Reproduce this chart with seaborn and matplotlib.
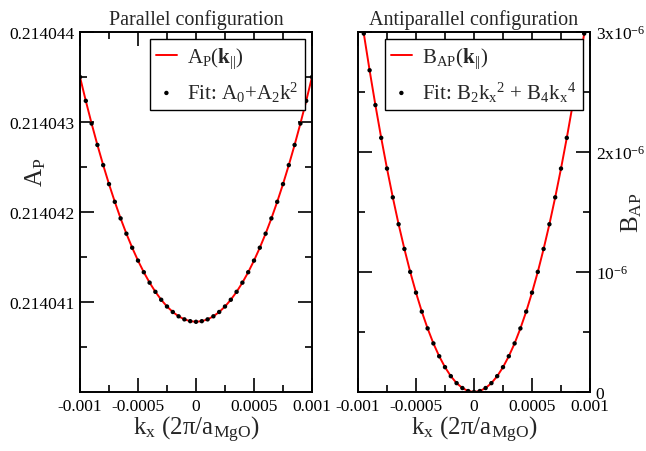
import numpy as np
import pandas as pd
import seaborn as sns
import matplotlib
matplotlib.use("Agg")
import matplotlib.pyplot as plt
from matplotlib.ticker import MultipleLocator, FixedLocator

# k_x values (2pi/a_MgO)
k_x = [-0.00100, -0.00095, -0.00090, -0.00085, -0.00080, -0.00075, -0.00070,
       -0.00065, -0.00060, -0.00055, -0.00050, -0.00045, -0.00040, -0.00035,
       -0.00030, -0.00025, -0.00020, -0.00015, -0.00010, -0.00005, 0.00000,
       0.00005, 0.00010, 0.00015, 0.00020, 0.00025, 0.00030, 0.00035,
       0.00040, 0.00045, 0.00050, 0.00055, 0.00060, 0.00065, 0.00070,
       0.00075, 0.00080, 0.00085, 0.00090, 0.00095, 0.00100]

# parallel configuration A_P
a_p = [0.214043500, 0.214043235, 0.214042983, 0.214042745, 0.214042521,
       0.214042310, 0.214042113, 0.214041929, 0.214041759, 0.214041603,
       0.214041460, 0.214041331, 0.214041215, 0.214041113, 0.214041025,
       0.214040950, 0.214040889, 0.214040841, 0.214040807, 0.214040787,
       0.214040780,
       0.214040787, 0.214040807, 0.214040841, 0.214040889, 0.214040950,
       0.214041025, 0.214041113, 0.214041215, 0.214041331, 0.214041460,
       0.214041603, 0.214041759, 0.214041929, 0.214042113, 0.214042310,
       0.214042521, 0.214042745, 0.214042983, 0.214043235, 0.214043500]

# antiparallel configuration B_AP
b_ap = [3.310e-6, 2.987e-6, 2.681e-6, 2.391e-6, 2.118e-6, 1.862e-6, 1.622e-6,
        1.398e-6, 1.192e-6, 1.001e-6, 0.828e-6, 0.670e-6, 0.530e-6, 0.405e-6,
        0.298e-6, 0.207e-6, 0.132e-6, 0.074e-6, 0.033e-6, 0.008e-6, 0.0,
        0.008e-6, 0.033e-6, 0.074e-6, 0.132e-6, 0.207e-6, 0.298e-6, 0.405e-6,
        0.530e-6, 0.670e-6, 0.828e-6, 1.001e-6, 1.192e-6, 1.398e-6, 1.622e-6,
        1.862e-6, 2.118e-6, 2.391e-6, 2.681e-6, 2.987e-6, 3.310e-6]

x_ticks = [-0.001, -0.0005, 0, 0.0005, 0.001]
x_labels = ["-0.001", "-0.0005", "0", "0.0005", "0.001"]
a_ticks = [0.214041, 0.214042, 0.214043, 0.214044]
a_labels = ["0.214041", "0.214042", "0.214043", "0.214044"]
b_ticks = [0, 1e-6, 2e-6, 3e-6]
b_labels = ["0", "10$^{\\mathregular{-6}}$", "2x10$^{\\mathregular{-6}}$",
            "3x10$^{\\mathregular{-6}}$"]

df = pd.DataFrame({"k": k_x, "A": a_p, "B": b_ap})

sns.set_theme(style="ticks")
plt.rcParams["font.family"] = ["Liberation Serif", "DejaVu Serif"]
plt.rcParams["mathtext.fontset"] = "custom"
plt.rcParams["mathtext.rm"] = "Liberation Serif"
plt.rcParams["mathtext.it"] = "Liberation Serif:italic"
plt.rcParams["mathtext.bf"] = "Liberation Serif:bold"

fig = plt.figure(figsize=(6.46, 4.52), dpi=100)
ax1 = fig.add_axes([80 / 646, 59 / 452, 232 / 646, 360 / 452])
ax2 = fig.add_axes([358 / 646, 59 / 452, 232 / 646, 360 / 452])


def style_axis(ax):
    for s in ax.spines.values():
        s.set_linewidth(1.4)
        s.set_color("black")
    ax.tick_params(which="both", direction="in", top=True, right=True,
                   left=True, bottom=True, width=1.2, colors="black",
                   labelsize=12.5, pad=4)
    ax.tick_params(which="major", length=10)
    ax.tick_params(which="minor", length=5)
    ax.set_xlim(-0.001, 0.001)
    ax.xaxis.set_major_locator(FixedLocator(x_ticks))
    ax.set_xticklabels(x_labels)
    ax.xaxis.set_minor_locator(MultipleLocator(0.00025))
    ax.set_xlabel("k$_\\mathregular{x}$ (2π/a$_\\mathregular{MgO}$)",
                  fontsize=18, labelpad=0)


def style_legend(ax):
    leg = ax.legend(loc="upper right", fontsize=15, frameon=True,
                    fancybox=False, edgecolor="black", framealpha=1,
                    borderaxespad=0.35, borderpad=0.3, handlelength=1.0,
                    handletextpad=0.5, labelspacing=0.45)
    leg.get_frame().set_linewidth(1.0)


# left panel
sns.lineplot(data=df, x="k", y="A", ax=ax1, color="#ff0000", linewidth=1.4,
             label="A$_\\mathregular{P}$($\\mathbf{k}_{\\mathregular{||}}$)")
sns.scatterplot(data=df, x="k", y="A", ax=ax1, color="black", s=10,
                edgecolor="none", zorder=3,
                label="Fit: A$_\\mathregular{0}$+A$_\\mathregular{2}$k$^\\mathregular{2}$")
style_axis(ax1)
ax1.set_ylim(0.21404, 0.214044)
ax1.yaxis.set_major_locator(FixedLocator(a_ticks))
ax1.set_yticklabels(a_labels)
ax1.yaxis.set_minor_locator(FixedLocator([0.2140405, 0.2140415, 0.2140425, 0.2140435]))
ax1.set_ylabel("A$_\\mathregular{P}$", fontsize=18, va="center")
ax1.yaxis.set_label_coords(-0.19, 0.614)
ax1.set_title("Parallel configuration", fontsize=14.5, pad=6)
style_legend(ax1)

# right panel
sns.lineplot(data=df, x="k", y="B", ax=ax2, color="#ff0000", linewidth=1.4,
             label="B$_\\mathregular{AP}$($\\mathbf{k}_{\\mathregular{||}}$)")
sns.scatterplot(data=df, x="k", y="B", ax=ax2, color="black", s=10,
                edgecolor="none", zorder=3,
                label="Fit: B$_\\mathregular{2}$k$_\\mathregular{x}{}^\\mathregular{2}$ + B$_\\mathregular{4}$k$_\\mathregular{x}{}^\\mathregular{4}$")
style_axis(ax2)
ax2.set_ylim(0, 3e-6)
ax2.yaxis.set_major_locator(FixedLocator(b_ticks))
ax2.set_yticklabels(b_labels)
ax2.yaxis.set_minor_locator(MultipleLocator(0.5e-6))
ax2.yaxis.tick_right()
ax2.tick_params(which="both", left=True, right=True, labelleft=False,
                labelright=True)
ax2.yaxis.set_label_position("right")
ax2.set_ylabel("B$_\\mathregular{AP}$", fontsize=18, va="center")
ax2.yaxis.set_label_coords(1.18, 0.50)
ax2.set_title("Antiparallel configuration", fontsize=14.5, pad=6)
style_legend(ax2)

fig.savefig("out.png", dpi=100)
